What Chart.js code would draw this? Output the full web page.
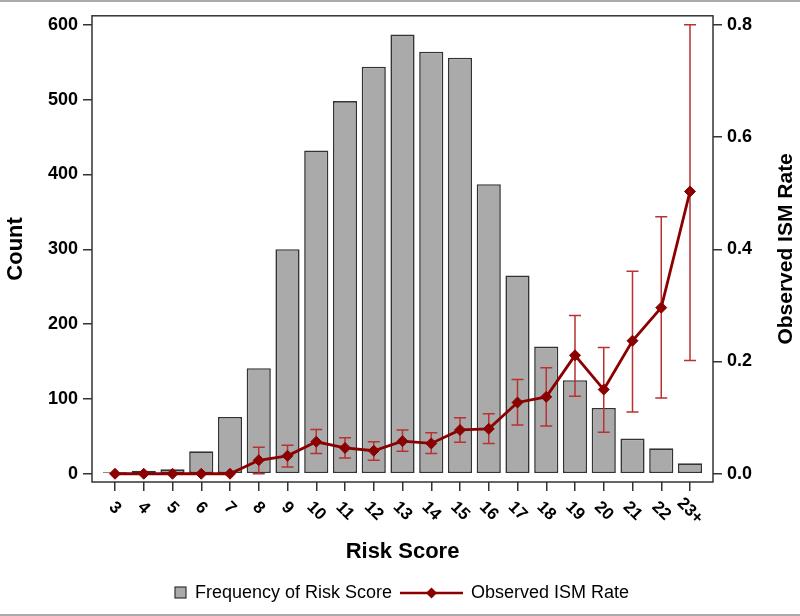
<!DOCTYPE html>
<html>
<head>
<meta charset="utf-8">
<title>Risk Score</title>
<script src="https://cdn.jsdelivr.net/npm/chart.js@4/dist/chart.umd.min.js"></script>
<style>
  html, body { margin: 0; padding: 0; background: #fff; }
  #wrap { width: 800px; height: 616px; }
</style>
</head>
<body>
<div id="wrap"><canvas id="riskChart" width="800" height="616"></canvas></div>
<script>
// Data
const scores = [3, 4, 5, 6, 7, 8, 9, 10, 11, 12, 13, 14, 15, 16, 17, 18, 19, 20, 21, 22, 23];
const scoreLabels = ['3', '4', '5', '6', '7', '8', '9', '10', '11', '12', '13', '14', '15', '16', '17', '18', '19', '20', '21', '22', '23+'];
const counts = [2, 4, 6, 30, 76, 141, 300, 432, 498, 544, 587, 564, 556, 387, 265, 170, 125, 88, 47, 34, 14];
const ismRate = [0, 0, 0, 0, 0, 0.024, 0.032, 0.057, 0.046, 0.041, 0.058, 0.054, 0.078, 0.080, 0.127, 0.137, 0.211, 0.150, 0.237, 0.296, 0.503];
const rateLower = [0, 0, 0, 0, 0, 0.0, 0.012, 0.036, 0.028, 0.024, 0.040, 0.036, 0.056, 0.054, 0.087, 0.085, 0.138, 0.074, 0.110, 0.135, 0.202];
const rateUpper = [0, 0, 0, 0, 0, 0.047, 0.051, 0.079, 0.064, 0.057, 0.078, 0.073, 0.100, 0.107, 0.168, 0.189, 0.282, 0.225, 0.361, 0.458, 0.800];
const countTicks = [0, 100, 200, 300, 400, 500, 600];
const rateTicks = [0, 0.2, 0.4, 0.6, 0.8];

const FONT = "'Liberation Sans', Arial, sans-serif";
const LINE_RED = '#8b0000';
const ERR_RED = '#b83232';
const BAR_GRAY = '#aaaaaa';
const EDGE = '#333333';

// Error bars, x labels, right title, frame and legend
const extrasPlugin = {
  id: 'extras',
  beforeDatasetDraw(chart, args) {
    if (args.index !== 0) return;
    const ctx = chart.ctx;
    const xs = chart.scales.x;
    const ys = chart.scales.y1;
    ctx.save();
    ctx.strokeStyle = ERR_RED;
    ctx.lineWidth = 1.5;
    scores.forEach((s, i) => {
      if (rateUpper[i] === rateLower[i]) return;
      const x = xs.getPixelForValue(s);
      const yTop = ys.getPixelForValue(rateUpper[i]);
      const yBot = ys.getPixelForValue(rateLower[i]);
      ctx.beginPath();
      ctx.moveTo(x, yTop); ctx.lineTo(x, yBot);
      ctx.moveTo(x - 6, yTop); ctx.lineTo(x + 6, yTop);
      ctx.moveTo(x - 6, yBot); ctx.lineTo(x + 6, yBot);
      ctx.stroke();
    });
    ctx.restore();
  },
  afterDraw(chart) {
    const ctx = chart.ctx;
    const area = chart.chartArea;
    const xs = chart.scales.x;
    ctx.save();

    // plot frame
    ctx.strokeStyle = EDGE;
    ctx.lineWidth = 1.5;
    ctx.strokeRect(area.left, area.top, area.right - area.left, area.bottom - area.top);

    // rotated x tick labels (clockwise)
    ctx.fillStyle = '#000';
    ctx.font = 'bold 17px ' + FONT;
    ctx.textAlign = 'center';
    ctx.textBaseline = 'middle';
    scores.forEach((s, i) => {
      const x = xs.getPixelForValue(s);
      ctx.save();
      ctx.translate(x, scoreLabels[i].length > 1 ? 511 : 508);
      ctx.rotate(Math.PI / 4);
      ctx.fillText(scoreLabels[i], 0, 0);
      ctx.restore();
    });

    // right axis title, reading bottom to top
    ctx.save();
    ctx.font = 'bold 21px ' + FONT;
    ctx.translate(786, (area.top + area.bottom) / 2);
    ctx.rotate(-Math.PI / 2);
    ctx.fillText('Observed ISM Rate', 0, 0);
    ctx.restore();

    // legend
    const ly = 593;
    ctx.font = '18px ' + FONT;
    ctx.textAlign = 'left';
    ctx.fillStyle = BAR_GRAY;
    ctx.fillRect(175, ly - 6, 11, 11);
    ctx.strokeStyle = EDGE;
    ctx.lineWidth = 1.2;
    ctx.strokeRect(175, ly - 6, 11, 11);
    ctx.fillStyle = '#000';
    ctx.fillText('Frequency of Risk Score', 195, ly);
    ctx.strokeStyle = LINE_RED;
    ctx.lineWidth = 2.5;
    ctx.beginPath();
    ctx.moveTo(400, ly); ctx.lineTo(463, ly);
    ctx.stroke();
    ctx.fillStyle = LINE_RED;
    ctx.beginPath();
    ctx.moveTo(431.5 - 5.5, ly); ctx.lineTo(431.5, ly - 5.5);
    ctx.lineTo(431.5 + 5.5, ly); ctx.lineTo(431.5, ly + 5.5);
    ctx.closePath();
    ctx.fill();
    ctx.fillStyle = '#000';
    ctx.fillText('Observed ISM Rate', 471, ly);

    // thin grey rules at top and bottom of the picture
    ctx.fillStyle = '#aaaaaa';
    ctx.fillRect(0, 0, chart.width, 2);
    ctx.fillRect(0, chart.height - 2, chart.width, 2);
    ctx.restore();
  }
};

function buildChart() {
  const ctx = document.getElementById('riskChart').getContext('2d');
  return new Chart(ctx, {
    data: {
      datasets: [
        {
          type: 'line',
          label: 'Observed ISM Rate',
          data: scores.map((s, i) => ({ x: s, y: ismRate[i] })),
          yAxisID: 'y1',
          borderColor: LINE_RED,
          backgroundColor: LINE_RED,
          borderWidth: 2.8,
          pointStyle: 'rectRot',
          pointRadius: 5.5,
          pointBorderWidth: 1,
          pointBackgroundColor: LINE_RED,
          pointBorderColor: LINE_RED,
          tension: 0,
          order: 0
        },
        {
          type: 'bar',
          label: 'Frequency of Risk Score',
          data: scores.map((s, i) => ({ x: s, y: counts[i] })),
          yAxisID: 'y',
          backgroundColor: BAR_GRAY,
          borderColor: EDGE,
          borderWidth: 1.6,
          borderSkipped: false,
          barPercentage: 0.84,
          categoryPercentage: 1,
          order: 1
        }
      ]
    },
    options: {
      responsive: false,
      animation: false,
      layout: { padding: { top: 15, left: 0, right: 0, bottom: 0 } },
      plugins: {
        legend: { display: false },
        tooltip: { enabled: false }
      },
      scales: {
        x: {
          type: 'linear',
          position: 'bottom',
          offset: false,
          min: 2.2,
          max: 23.8,
          afterBuildTicks: (s) => { s.ticks = scores.map(v => ({ value: v })); },
          afterFit: (s) => { s.height = 134; },
          border: { display: false },
          grid: { offset: false, drawOnChartArea: false, drawTicks: true, tickLength: 9, color: EDGE, lineWidth: 1.5 },
          ticks: { display: false },
          title: {
            display: true,
            text: 'Risk Score',
            color: '#000',
            font: { family: FONT, size: 22, weight: 'bold' },
            padding: { top: 0, bottom: 51 }
          }
        },
        y: {
          type: 'linear',
          position: 'left',
          min: -11,
          max: 612,
          afterBuildTicks: (s) => { s.ticks = countTicks.map(v => ({ value: v })); },
          afterFit: (s) => { s.width = 92; },
          border: { display: false },
          grid: { drawOnChartArea: false, drawTicks: true, tickLength: 9, color: EDGE, lineWidth: 1.5 },
          ticks: {
            color: '#000',
            padding: 5,
            font: { family: FONT, size: 18, weight: 'bold' }
          },
          title: {
            display: true,
            text: 'Count',
            color: '#000',
            font: { family: FONT, size: 22, weight: 'bold' },
            padding: { top: 3, bottom: 0 }
          }
        },
        y1: {
          type: 'linear',
          position: 'right',
          min: -0.0147,
          max: 0.816,
          afterBuildTicks: (s) => { s.ticks = rateTicks.map(v => ({ value: v })); },
          afterFit: (s) => { s.width = 87; },
          border: { display: false },
          grid: { drawOnChartArea: false, drawTicks: true, tickLength: 9, color: EDGE, lineWidth: 1.5 },
          ticks: {
            color: '#000',
            padding: 5,
            font: { family: FONT, size: 18, weight: 'bold' },
            callback: (v) => v.toFixed(1)
          }
        }
      }
    },
    plugins: [extrasPlugin]
  });
}

document.addEventListener('DOMContentLoaded', buildChart);
</script>
</body>
</html>
